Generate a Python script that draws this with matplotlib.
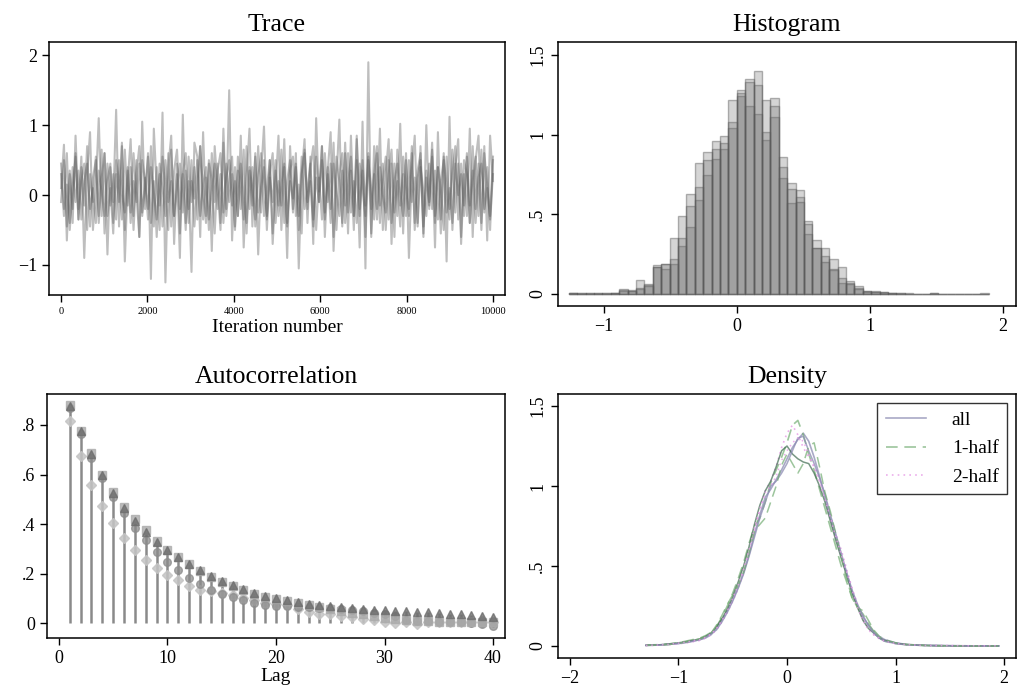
import numpy as np
import matplotlib
matplotlib.use("Agg")
import matplotlib.pyplot as plt
from matplotlib.ticker import FixedLocator, FixedFormatter

plt.rcParams['font.family'] = ['Liberation Serif', 'DejaVu Serif']

# ---- trace: four chains (thinned) ----
trace_a = [0.1, 0.72, -0.65, 0.35, -0.4, 0.85, -0.2, 0.55, -0.9, 0.3,
           0.9, -0.5, 0.1, 1.1, -0.3, 0.6, -0.85, 0.4, -0.1, 1.22,
           -0.45, 0.7, -0.95, 0.2, 0.8, -0.3, 0.5, -0.6, 1.05, -0.2,
           0.6, -1.2, 0.95, 0.1, -0.5, 1.18, -1.25, 0.4, 0.85, -0.7,
           0.3, -0.9, 1.15, -0.4, 0.2, -1.1, 0.75, 0.55, -0.6, 0.9,
           -0.3, 0.45, -0.8, 0.7, 0.1, -0.5, 0.95, -0.2, 1.5, -0.65,
           0.4, -0.3, 0.85, -0.75, 0.25, 0.95, -0.45, 0.6, -0.85, 0.3,
           0.98, -0.3, 0.5, -0.7, 0.1, 0.85, -0.5, 0.4, -0.9, 0.7,
           -0.2, 0.6, -1.05, 0.3, 0.8, -0.4, 0.55, -0.7, 1.1, -0.1,
           0.7, -0.6, 0.35, 0.9, -0.8, 0.2, 1.08, -0.45, 0.6, -0.55,
           0.85, -0.3, 0.5, -0.75, 1.05, -1.05, 1.9, -0.6, 0.7, -0.2,
           0.95, -0.5, 0.3, 0.8, -0.7, 0.45, -0.3, 1.02, -0.55, 0.6,
           -0.9, 0.35, 0.85, -0.4, 0.7, -0.6, 1.0, -0.2, 0.55, -0.75,
           0.9, -0.35, 0.6, -0.95, 1.12, -0.5, 0.4, 0.8, -0.7, 0.3,
           -0.3, 0.95, -0.6, 0.5, 0.85, -0.4, 0.7, -0.65, 0.85, 0.2]
trace_b = [-0.1, 0.5, -0.45, 0.3, -0.2, 0.6, -0.35, 0.2, 0.45, -0.5,
           0.3, -0.1, 0.55, -0.4, 0.25, 0.6, -0.3, 0.1, -0.55, 0.5,
           0.2, -0.35, 0.65, -0.15, 0.4, -0.5, 0.3, 0.7, -0.25, 0.1,
           0.55, -0.4, 0.2, -0.6, 0.45, 0.1, -0.3, 0.6, -0.45, 0.35,
           0.65, -0.2, 0.3, -0.5, 0.55, -0.1, 0.4, -0.35, 0.7, 0.05,
           -0.4, 0.5, 0.2, -0.55, 0.35, 0.6, -0.25, 0.45, -0.1, 0.3,
           -0.5, 0.55, 0.15, -0.35, 0.7, -0.2, 0.4, -0.45, 0.25, 0.6,
           -0.3, 0.1, 0.5, -0.55, 0.35, -0.15, 0.65, -0.4, 0.2, 0.5,
           -0.25, 0.45, -0.5, 0.3, 0.6, -0.1, 0.2, -0.45, 0.55, 0.05,
           0.7, -0.35, 0.4, -0.2, 0.75, -0.5, 0.3, 0.6, -0.4, 0.15,
           0.55, -0.3, 0.8, -0.2, 0.35, -0.6, 0.5, 0.1, -0.35, 0.6,
           -0.15, 0.45, -0.5, 0.3, 0.65, -0.25, 0.2, -0.45, 0.55, 0.1,
           -0.3, 0.6, -0.4, 0.25, 0.5, -0.55, 0.35, -0.1, 0.65, -0.3,
           0.4, 0.1, -0.5, 0.55, -0.2, 0.3, 0.7, -0.35, 0.45, -0.15,
           0.6, -0.4, 0.2, 0.55, -0.3, 0.65, -0.25, 0.4, -0.5, 0.5]
trace_c = [0.3, -0.3, 0.15, -0.4, 0.4, -0.1, 0.35, -0.35, 0.2, 0.45,
           -0.2, 0.1, -0.4, 0.35, 0.05, -0.3, 0.45, -0.15, 0.3, -0.35,
           0.5, 0.0, -0.25, 0.4, -0.4, 0.2, -0.1, 0.45, -0.3, 0.25,
           -0.2, 0.4, 0.05, -0.35, 0.3, -0.45, 0.5, -0.1, 0.2, -0.3,
           0.1, 0.45, -0.25, 0.35, -0.4, 0.2, -0.05, 0.5, -0.3, 0.15,
           0.4, -0.35, 0.05, 0.45, -0.2, 0.3, -0.4, 0.25, 0.5, -0.15,
           0.2, -0.3, 0.45, 0.0, -0.4, 0.35, -0.15, 0.55, -0.25, 0.1,
           0.4, -0.35, 0.25, -0.1, 0.5, -0.3, 0.15, 0.45, -0.4, 0.2,
           -0.05, 0.4, -0.3, 0.55, -0.2, 0.1, 0.45, -0.35, 0.25, -0.1,
           0.5, -0.25, 0.3, -0.4, 0.45, 0.05, -0.3, 0.35, -0.15, 0.6,
           -0.25, 0.2, -0.4, 0.45, 0.1, -0.3, 0.55, -0.2, 0.3, -0.35,
           0.4, 0.0, -0.25, 0.5, -0.4, 0.2, 0.45, -0.15, 0.3, -0.3,
           0.5, -0.1, 0.25, -0.45, 0.4, 0.05, -0.3, 0.45, -0.2, 0.35,
           -0.35, 0.2, 0.5, -0.25, 0.1, -0.4, 0.45, 0.0, 0.3, -0.3,
           0.55, -0.15, 0.35, -0.4, 0.25, 0.45, -0.2, 0.1, -0.35, 0.3]
trace_d = [0.45, -0.2, 0.6, -0.5, 0.1, 0.55, -0.35, 0.4, -0.15, 0.7,
           -0.45, 0.25, 0.5, -0.3, 0.65, -0.55, 0.2, 0.45, -0.4, 0.3,
           -0.1, 0.75, -0.5, 0.35, -0.25, 0.6, 0.0, -0.6, 0.5, 0.2,
           -0.35, 0.7, -0.45, 0.4, -0.15, 0.55, 0.1, -0.5, 0.65, -0.3,
           0.45, -0.55, 0.3, 0.6, -0.2, 0.5, -0.45, 0.15, 0.7, -0.35,
           0.25, -0.5, 0.6, -0.1, 0.45, -0.4, 0.75, -0.3, 0.2, 0.55,
           -0.45, 0.35, -0.2, 0.65, -0.55, 0.4, 0.1, -0.35, 0.7, -0.25,
           0.5, -0.5, 0.3, 0.6, -0.4, 0.2, -0.15, 0.8, -0.45, 0.35,
           0.55, -0.3, 0.15, -0.55, 0.65, -0.2, 0.4, 0.7, -0.5, 0.25,
           -0.35, 0.6, -0.1, 0.45, -0.6, 0.55, 0.2, -0.4, 0.75, -0.25,
           0.35, -0.5, 0.85, -0.3, 0.5, -0.15, 0.6, -0.55, 0.3, 0.7,
           -0.4, 0.2, 0.55, -0.35, 0.45, -0.6, 0.65, 0.05, -0.3, 0.5,
           -0.2, 0.7, -0.5, 0.35, 0.6, -0.45, 0.25, -0.15, 0.75, -0.4,
           0.4, -0.55, 0.55, 0.1, -0.35, 0.65, -0.25, 0.45, -0.6, 0.5,
           0.3, -0.4, 0.7, -0.2, 0.45, -0.5, 0.6, 0.15, -0.3, 0.55]
n_iter = 10000

# ---- histogram: 50 bins starting at -1.264, width 0.0632 ----
bin_start = -1.264
bin_width = 0.0632
hist_a = [0.005, 0.004, 0.003, 0.004, 0.003, 0.006, 0.03, 0.02, 0.03, 0.055,
          0.17, 0.155, 0.19, 0.30, 0.42, 0.59, 0.75, 0.85, 0.91, 1.04,
          1.24, 1.18, 1.13, 0.97, 1.11, 0.73, 0.57, 0.61, 0.38, 0.29,
          0.24, 0.15, 0.07, 0.07, 0.04, 0.02, 0.015, 0.01, 0.008, 0.005,
          0.004, 0.003, 0.002, 0.004, 0.0, 0.0, 0.0, 0.0, 0.0, 0.0]
hist_b = [0.004, 0.005, 0.006, 0.003, 0.005, 0.004, 0.02, 0.025, 0.09, 0.06,
          0.18, 0.19, 0.22, 0.35, 0.55, 0.67, 0.84, 0.91, 0.95, 1.08,
          1.26, 1.35, 1.31, 1.02, 1.23, 0.86, 0.70, 0.65, 0.46, 0.34,
          0.29, 0.22, 0.17, 0.08, 0.05, 0.02, 0.02, 0.01, 0.006, 0.004,
          0.003, 0.002, 0.0, 0.005, 0.0, 0.0, 0.0, 0.0, 0.0, 0.0]
hist_c = [0.006, 0.003, 0.004, 0.006, 0.004, 0.008, 0.025, 0.02, 0.04, 0.05,
          0.17, 0.19, 0.35, 0.49, 0.63, 0.82, 0.89, 0.96, 0.99, 1.22,
          1.28, 1.33, 1.40, 1.22, 1.18, 0.80, 0.66, 0.58, 0.44, 0.29,
          0.20, 0.16, 0.10, 0.06, 0.03, 0.01, 0.01, 0.008, 0.005, 0.003,
          0.002, 0.0, 0.0, 0.0, 0.0, 0.0, 0.0, 0.0, 0.0, 0.005]

# ---- autocorrelation, lags 1..40, four chains ----
lags = list(range(1, 41))
acf_tri = [0.878, 0.774, 0.682, 0.599, 0.524, 0.466, 0.412, 0.369, 0.328, 0.295,
           0.265, 0.238, 0.214, 0.19, 0.17, 0.153, 0.139, 0.123, 0.108, 0.101,
           0.092, 0.085, 0.078, 0.072, 0.068, 0.065, 0.061, 0.058, 0.055, 0.053,
           0.05, 0.047, 0.045, 0.045, 0.042, 0.038, 0.035, 0.032, 0.027, 0.024]
acf_sq = [0.88, 0.775, 0.685, 0.60, 0.53, 0.47, 0.42, 0.375, 0.33, 0.297,
          0.265, 0.238, 0.21, 0.188, 0.165, 0.148, 0.133, 0.118, 0.105, 0.097,
          0.088, 0.08, 0.072, 0.065, 0.058, 0.05, 0.042, 0.035, 0.028, 0.022,
          0.018, 0.014, 0.01, 0.008, 0.006, 0.005, 0.004, 0.004, 0.003, 0.003]
acf_circ = [0.869, 0.764, 0.666, 0.585, 0.511, 0.443, 0.385, 0.335, 0.288, 0.247,
            0.214, 0.184, 0.159, 0.135, 0.119, 0.105, 0.092, 0.081, 0.074, 0.069,
            0.068, 0.065, 0.065, 0.062, 0.061, 0.058, 0.054, 0.049, 0.041, 0.035,
            0.027, 0.014, 0.008, 0.007, 0.004, 0.004, 0.003, 0.0, -0.005, -0.012]
acf_dia = [0.815, 0.676, 0.558, 0.474, 0.405, 0.342, 0.295, 0.254, 0.223, 0.196,
           0.173, 0.15, 0.135, 0.13, 0.122, 0.112, 0.103, 0.092, 0.082, 0.078,
           0.072, 0.058, 0.045, 0.038, 0.035, 0.028, 0.024, 0.018, 0.011, 0.004,
           0.0, 0.004, -0.003, 0.004, 0.004, 0.004, 0.004, 0.004, 0.004, 0.004]

# ---- density curves ----
dens_x = [-1.3, -1.2, -1.1, -1.0, -0.9,
          -0.8, -0.75, -0.7, -0.65, -0.6, -0.55, -0.5, -0.45, -0.4, -0.35, -0.3,
          -0.25, -0.2, -0.15, -0.1, -0.05, 0.0, 0.05, 0.1, 0.15, 0.2, 0.25, 0.3,
          0.35, 0.4, 0.45, 0.5, 0.55, 0.6, 0.65, 0.7, 0.75, 0.8, 0.85, 0.9,
          1.0, 1.1, 1.2, 1.3, 1.5, 1.7, 1.95]
dens_all1 = [0.005, 0.006, 0.01, 0.015, 0.025,
             0.04, 0.05, 0.07, 0.11, 0.16, 0.22, 0.29, 0.37, 0.46, 0.57, 0.70,
             0.82, 0.93, 0.98, 1.04, 1.10, 1.17, 1.24, 1.29, 1.33, 1.28, 1.18, 1.06,
             0.93, 0.80, 0.68, 0.56, 0.45, 0.34, 0.25, 0.18, 0.13, 0.09, 0.06, 0.04,
             0.02, 0.01, 0.006, 0.004, 0.002, 0.001, 0.001]
dens_all2 = [0.004, 0.006, 0.012, 0.02, 0.03,
             0.045, 0.06, 0.08, 0.12, 0.17, 0.23, 0.31, 0.40, 0.50, 0.62, 0.76,
             0.88, 0.97, 1.03, 1.12, 1.22, 1.25, 1.20, 1.17, 1.15, 1.14, 1.08, 1.00,
             0.90, 0.78, 0.66, 0.55, 0.44, 0.33, 0.24, 0.16, 0.11, 0.08, 0.05, 0.035,
             0.018, 0.009, 0.005, 0.003, 0.001, 0.0, 0.0]
dens_all3 = [0.003, 0.005, 0.009, 0.016, 0.026,
             0.04, 0.055, 0.075, 0.10, 0.15, 0.21, 0.28, 0.36, 0.45, 0.56, 0.68,
             0.80, 0.90, 1.00, 1.03, 1.08, 1.14, 1.22, 1.30, 1.31, 1.22, 1.14, 1.05,
             0.95, 0.82, 0.70, 0.58, 0.46, 0.35, 0.26, 0.19, 0.13, 0.08, 0.05, 0.03,
             0.015, 0.008, 0.005, 0.003, 0.002, 0.001, 0.0]
dens_h1a = [0.006, 0.008, 0.012, 0.02, 0.035,
            0.05, 0.065, 0.085, 0.12, 0.18, 0.25, 0.33, 0.42, 0.52, 0.64, 0.75,
            0.80, 0.90, 1.02, 1.10, 1.18, 1.27, 1.38, 1.41, 1.32, 1.20, 1.10, 0.98,
            0.86, 0.74, 0.62, 0.50, 0.40, 0.30, 0.24, 0.20, 0.14, 0.09, 0.05, 0.03,
            0.015, 0.008, 0.005, 0.002, 0.001, 0.0, 0.0]
dens_h1b = [0.004, 0.005, 0.008, 0.016, 0.03,
            0.045, 0.06, 0.08, 0.13, 0.19, 0.26, 0.32, 0.38, 0.46, 0.58, 0.72,
            0.76, 0.80, 0.90, 1.00, 1.13, 1.20, 1.14, 1.08, 1.14, 1.25, 1.27, 1.12,
            0.96, 0.84, 0.70, 0.55, 0.42, 0.30, 0.24, 0.22, 0.16, 0.10, 0.06, 0.04,
            0.02, 0.01, 0.006, 0.003, 0.001, 0.0, 0.0]
dens_h2a = [0.003, 0.005, 0.008, 0.014, 0.022,
            0.035, 0.05, 0.07, 0.10, 0.15, 0.21, 0.28, 0.36, 0.46, 0.58, 0.72,
            0.85, 0.97, 1.03, 1.12, 1.24, 1.33, 1.38, 1.32, 1.24, 1.18, 1.12, 1.04,
            0.94, 0.82, 0.70, 0.60, 0.48, 0.36, 0.26, 0.17, 0.11, 0.07, 0.045, 0.03,
            0.015, 0.008, 0.005, 0.003, 0.002, 0.001, 0.001]
dens_h2b = [0.004, 0.006, 0.01, 0.018, 0.028,
            0.04, 0.055, 0.075, 0.11, 0.16, 0.22, 0.30, 0.38, 0.48, 0.60, 0.74,
            0.86, 0.96, 1.00, 1.06, 1.16, 1.22, 1.27, 1.30, 1.28, 1.20, 1.12, 1.02,
            0.92, 0.80, 0.68, 0.57, 0.46, 0.35, 0.24, 0.16, 0.10, 0.07, 0.05, 0.03,
            0.016, 0.009, 0.005, 0.003, 0.002, 0.001, 0.001]

W, H = 1019, 693
fig = plt.figure(figsize=(W / 100, H / 100), dpi=100)


def axes_px(left, top, right, bottom):
    return fig.add_axes([left / W, (H - bottom) / H, (right - left) / W, (bottom - top) / H])


def style(ax):
    for s in ax.spines.values():
        s.set_linewidth(1.1)
    ax.tick_params(direction='out', length=5, width=1, labelsize=13, color='black')


# Trace
ax0 = axes_px(49, 42, 505, 295)
style(ax0)
for tr in (trace_a, trace_b, trace_c, trace_d):
    it = np.linspace(1, n_iter, len(tr))
    ax0.plot(it, tr, color='#5e5e5e', alpha=0.4, lw=1.5)
ax0.set_xlim(-278, 10278)
ax0.set_ylim(-1.43, 2.19)
ax0.set_xticks([0, 2000, 4000, 6000, 8000, 10000])
ax0.tick_params(axis='x', labelsize=7.5)
ax0.set_yticks([-1, 0, 1, 2])
ax0.set_yticklabels(['\u22121', '0', '1', '2'])
ax0.set_xlabel('Iteration number', fontsize=14, labelpad=2)
ax0.set_title('Trace', fontsize=18.5, pad=8)

# Histogram
ax1 = axes_px(558, 42, 1016, 306)
style(ax1)
edges = bin_start + bin_width * np.arange(len(hist_a))
for h in (hist_a, hist_b, hist_c):
    ax1.bar(edges, h, width=bin_width, align='edge', color=(0.42, 0.42, 0.42, 0.28),
            edgecolor=(0.35, 0.35, 0.35, 0.45), lw=1.0)
ax1.set_xlim(-1.346, 2.1)
ax1.set_ylim(-0.075, 1.582)
ax1.set_xticks([-1, 0, 1, 2])
ax1.set_xticklabels(['\u22121', '0', '1', '2'])
ax1.yaxis.set_major_locator(FixedLocator([0, 0.5, 1, 1.5]))
ax1.yaxis.set_major_formatter(FixedFormatter(['0', '.5', '1', '1.5']))
for lab in ax1.get_yticklabels():
    lab.set_rotation(90)
    lab.set_va('center')
ax1.set_title('Histogram', fontsize=18.5, pad=8)

# Autocorrelation
ax2 = axes_px(47, 394, 505, 638)
style(ax2)
ax2.vlines(lags, 0, acf_tri, color='#8a8a8a', lw=1.8)
ax2.plot(lags, acf_dia, 'D', ms=5, color='#c4c4c4', alpha=0.85, ls='none')
ax2.plot(lags, acf_circ, 'o', ms=5.5, color='#8c8c8c', alpha=0.75, ls='none')
ax2.plot(lags, acf_sq, 's', ms=5.5, color='#ababab', alpha=0.8, ls='none')
ax2.plot(lags, acf_tri, '^', ms=6, color='#6e6e6e', alpha=0.8, ls='none')
ax2.set_xlim(-1.1, 41.1)
ax2.set_ylim(-0.06, 0.925)
ax2.set_xticks([0, 10, 20, 30, 40])
ax2.yaxis.set_major_locator(FixedLocator([0, 0.2, 0.4, 0.6, 0.8]))
ax2.yaxis.set_major_formatter(FixedFormatter(['0', '.2', '.4', '.6', '.8']))
ax2.set_xlabel('Lag', fontsize=14, labelpad=1)
ax2.set_title('Autocorrelation', fontsize=18.5, pad=8)

# Density
ax3 = axes_px(558, 394, 1016, 658)
style(ax3)
c_all = (0.55, 0.55, 0.70)
c_h1 = (0.45, 0.68, 0.45)
c_h2 = (0.90, 0.60, 0.90)
ax3.plot(dens_x, dens_all1, color=c_all, lw=1.2, alpha=0.75, label='all')
ax3.plot(dens_x, dens_h1a, color=c_h1, lw=1.2, ls=(0, (7, 4)), alpha=0.7, label='1-half')
ax3.plot(dens_x, dens_h2a, color=c_h2, lw=1.2, ls=(0, (1, 2.5)), alpha=0.8, label='2-half')
ax3.plot(dens_x, dens_all2, color='#3f6b50', lw=1.1, alpha=0.7)
ax3.plot(dens_x, dens_all3, color=c_all, lw=1.1, alpha=0.75)
ax3.plot(dens_x, dens_h1b, color=c_h1, lw=1.1, ls=(0, (7, 4)), alpha=0.7)
ax3.plot(dens_x, dens_h2b, color=c_h2, lw=1.1, ls=(0, (1, 2.5)), alpha=0.8)
ax3.set_xlim(-2.11, 2.11)
ax3.set_ylim(-0.075, 1.575)
ax3.set_xticks([-2, -1, 0, 1, 2])
ax3.set_xticklabels(['\u22122', '\u22121', '0', '1', '2'])
ax3.yaxis.set_major_locator(FixedLocator([0, 0.5, 1, 1.5]))
ax3.yaxis.set_major_formatter(FixedFormatter(['0', '.5', '1', '1.5']))
for lab in ax3.get_yticklabels():
    lab.set_rotation(90)
    lab.set_va('center')
leg = ax3.legend(loc='upper right', fontsize=14, frameon=True, fancybox=False,
                 edgecolor='black', handlelength=2.1, labelspacing=0.55,
                 borderaxespad=0.45, handletextpad=1.3, borderpad=0.45)
leg.get_frame().set_linewidth(1.0)
ax3.set_title('Density', fontsize=18.5, pad=8)

fig.savefig('out.png', dpi=100)
